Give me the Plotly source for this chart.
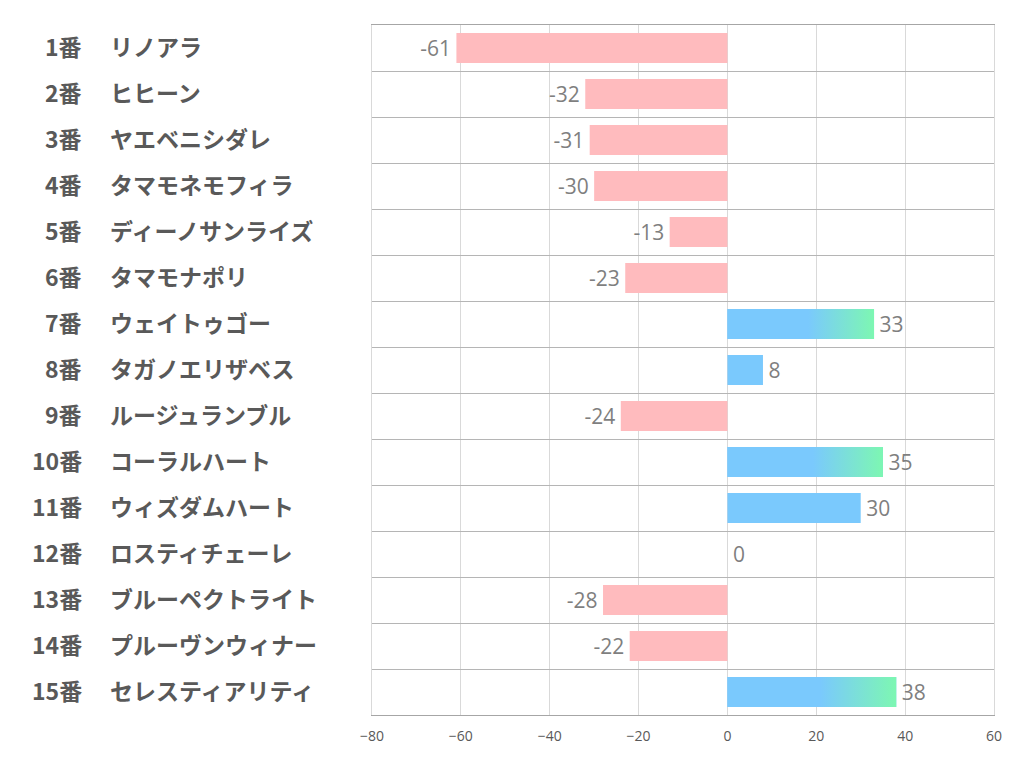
import plotly.graph_objects as go

numbers = ["1番", "2番", "3番", "4番", "5番", "6番", "7番", "8番", "9番", "10番",
           "11番", "12番", "13番", "14番", "15番"]
names = ["リノアラ", "ヒヒーン", "ヤエベニシダレ", "タマモネモフィラ", "ディーノサンライズ",
         "タマモナポリ", "ウェイトゥゴー", "タガノエリザベス", "ルージュランブル", "コーラルハート",
         "ウィズダムハート", "ロスティチェーレ", "ブルーペクトライト", "プルーヴンウィナー", "セレスティアリティ"]
values = [-61, -32, -31, -30, -13, -23, 33, 8, -24, 35, 30, 0, -28, -22, 38]
highlight = [False, False, False, False, False, False, True, False, False, True,
             False, False, False, False, True]
x_ticks = [-80, -60, -40, -20, 0, 20, 40, 60]

PINK = "#FFBBBE"
BLUE = "#7AC9FD"
GREEN = "#7DF7B2"
BAR_W = 0.65

# page has an 8px body margin
W, H = 1013, 774
L, R, T, B = 364, 27, 17, 67
PW = W - L - R

ypos = list(range(len(values)))
colors = [PINK if v < 0 else BLUE for v in values]

fig = go.Figure()
fig.add_trace(go.Bar(x=values, y=ypos, orientation="h", width=BAR_W,
                     marker=dict(color=colors, line=dict(width=0)), hoverinfo="skip"))

# gradient overlays for highlighted bars
for i, (v, h) in enumerate(zip(values, highlight)):
    if not h:
        continue
    y0, y1 = i - BAR_W / 2, i + BAR_W / 2
    fig.add_trace(go.Scatter(
        x=[0, v, v, 0, 0], y=[y0, y0, y1, y1, y0], mode="lines",
        line=dict(width=0), fill="toself",
        fillgradient=dict(type="horizontal",
                          colorscale=[[0, BLUE], [0.55, BLUE], [1, GREEN]]),
        hoverinfo="skip", showlegend=False))

# value labels
neg_idx = [i for i, v in enumerate(values) if v < 0]
pos_idx = [i for i, v in enumerate(values) if v >= 0]
lab_font = dict(family="Open Sans, Noto Sans CJK JP", size=21, color="#7F7F7F")
fig.add_trace(go.Scatter(x=[values[i] for i in neg_idx], y=[i + 0.06 for i in neg_idx],
                         mode="text", text=[str(values[i]) + "\u00a0" for i in neg_idx],
                         textposition="middle left", textfont=lab_font,
                         hoverinfo="skip", showlegend=False))
fig.add_trace(go.Scatter(x=[values[i] for i in pos_idx], y=[i + 0.06 for i in pos_idx],
                         mode="text", text=["\u00a0" + str(values[i]) for i in pos_idx],
                         textposition="middle right", textfont=lab_font,
                         hoverinfo="skip", showlegend=False))

# category labels
annots = []
lbl_font = dict(family="Noto Sans CJK JP", size=23, color="#595959", weight="bold")
for i, (n, nm) in enumerate(zip(numbers, names)):
    annots.append(dict(x=(76 - L) / PW, y=i - 0.05, xref="paper", yref="y", text=n,
                       showarrow=False, xanchor="right", yanchor="middle", font=lbl_font))
    annots.append(dict(x=(100 - L) / PW, y=i - 0.05, xref="paper", yref="y", text=nm,
                       showarrow=False, xanchor="left", yanchor="middle", font=lbl_font))

fig.update_layout(
    width=W, height=H, margin=dict(l=L, r=R, t=T, b=B),
    paper_bgcolor="white", plot_bgcolor="white",
    showlegend=False, bargap=0.35, annotations=annots,
    xaxis=dict(range=[-80, 60], tickvals=x_ticks, showgrid=True, gridcolor="#D9D9D9",
               gridwidth=1, zeroline=False, showline=True, linecolor="#A6A6A6",
               linewidth=1, mirror=True, ticks="", ticklabelstandoff=8,
               tickfont=dict(family="Open Sans", size=14, color="#595959")),
    yaxis=dict(range=[len(values) - 0.5, -0.5],
               tickvals=[k + 0.5 for k in range(-1, len(values))],
               showticklabels=False, showgrid=True, gridcolor="#B5B5B5", gridwidth=1,
               zeroline=False, showline=True, linecolor="#D9D9D9", linewidth=1,
               mirror=True, ticks=""),
)

fig.write_html("out.html")
